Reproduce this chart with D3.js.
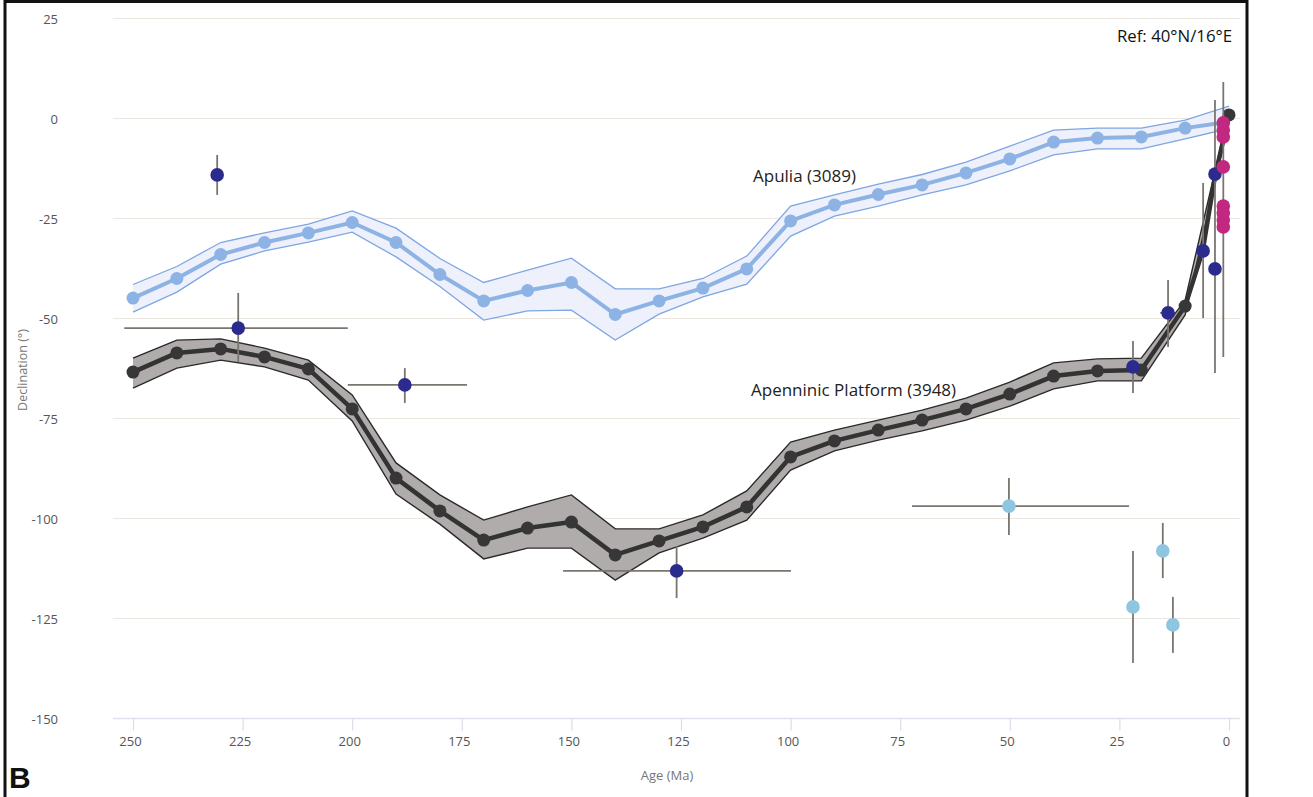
<!DOCTYPE html>
<html>
<head>
<meta charset="utf-8">
<script src="https://cdn.jsdelivr.net/npm/d3@7"></script>
<style>
  html, body { margin: 0; padding: 0; background: #fff; }
  svg { display: block; font-family: "Open Sans", "Lato", sans-serif; }
</style>
</head>
<body>
<svg id="chart" width="1313" height="797"></svg>
<script>
// ---------- DATA ----------
const ages = [250,240,230,220,210,200,190,180,170,160,150,140,130,120,110,100,90,80,70,60,50,40,30,20,10,0];

const apuliaDec = [-44.9,-40,-34,-31,-28.6,-26,-31,-39,-45.6,-43,-41,-49,-45.6,-42.4,-37.6,-25.6,-21.6,-19,-16.6,-13.6,-10.1,-5.9,-4.9,-4.6,-2.4,-0.8];
const apuliaUp  = [-41.5,-37,-31,-28.6,-26.4,-23.1,-27.4,-35,-41,-37.9,-34.9,-42.6,-42.6,-40,-34.4,-21.9,-19.1,-16.4,-14,-10.9,-6.9,-2.9,-2.4,-2.4,-0.4,3.1];
const apuliaLo  = [-48.4,-43.4,-36.4,-33.1,-30.9,-28.4,-34.6,-42,-50.4,-48.1,-47.9,-55.4,-48.9,-44.6,-41.4,-29.4,-24.4,-21.9,-19.1,-16.6,-13.1,-9.1,-7.6,-7.6,-5.1,-2.5];

const apenDec = [-63.4,-58.6,-57.6,-59.6,-62.6,-72.6,-89.9,-98.1,-105.4,-102.4,-100.9,-109.1,-105.6,-102.1,-97.1,-84.6,-80.6,-77.9,-75.4,-72.6,-68.9,-64.4,-63.1,-62.9,-46.9,0.9];
const apenUp  = [-59.9,-55.4,-55.1,-57.4,-60.4,-69.1,-86.1,-94.1,-100.4,-97.1,-94.1,-102.6,-102.6,-99.1,-93.1,-80.9,-77.9,-75.4,-72.9,-69.9,-65.9,-61.1,-60.1,-59.9,-45.4,2];
const apenLo  = [-67.4,-62.4,-60.4,-62.1,-65.4,-75.6,-93.9,-101.4,-110.1,-107.4,-107.4,-115.4,-108.6,-104.9,-100.4,-87.9,-83.1,-80.4,-78.1,-75.4,-71.9,-67.6,-65.6,-65.6,-49.1,-0.4];
// extra (unmarked) vertices of the Apenninic path between 10 and 0 Ma
const apenTailAge = [6, 3.2];
const apenTailDec = [-33.1, -14.5];

// Individual palaeomagnetic data (dark blue)
const dbAge    = [230.8, 226, 188, 126, 21.9, 13.9, 5.9, 3.2, 3.2];
const dbDec    = [-14.1, -52.4, -66.6, -113.1, -62.1, -48.6, -33.1, -13.9, -37.6];
const dbDecHi  = [-9.1, -43.6, -62.4, -106.9, -55.6, -40.4, -16.1, 4.6, null];
const dbDecLo  = [-19.1, -60.9, -71.1, -119.9, -68.6, -57.1, -49.9, -63.6, null];
const dbAgeOld = [null, 252, 201, 151.9, null, 15.7, null, null, null];
const dbAgeYng = [null, 201, 173.8, 99.9, null, 12.3, null, null, null];

// Magenta data
const mgAge   = [1.3, 1.3, 1.3, 1.3, 1.3, 1.3, 1.3, 1.3];
const mgDec   = [-1.1, -2.9, -4.6, -12.1, -21.9, -23.6, -25.4, -27.1];
const mgDecHi = [null, null, null, null, null, null, 9.1, null];
const mgDecLo = [null, null, null, null, null, null, -59.6, null];

// Light blue data
const lbAge    = [50.2, 21.9, 15.1, 12.8];
const lbDec    = [-96.9, -122.1, -108.1, -126.6];
const lbDecHi  = [-89.9, -108.1, -101.1, -119.6];
const lbDecLo  = [-104.1, -136.1, -114.9, -133.6];
const lbAgeOld = [72.3, null, null, null];
const lbAgeYng = [22.8, null, null, null];

const xTicks = [250,225,200,175,150,125,100,75,50,25,0];
const yTicks = [25,0,-25,-50,-75,-100,-125,-150];

// ---------- SCALES ----------
const svg = d3.select("#chart");
const x = d3.scaleLinear().domain([250, 0]).range([133, 1229]);
const y = d3.scaleLinear().domain([25, -150]).range([18.5, 718.5]);
const gridX0 = 113, gridX1 = 1240;

// frame
svg.append("path")
  .attr("d", "M5,797 L5,1.5 L1247,1.5 L1247,797")
  .attr("fill", "none").attr("stroke", "#111").attr("stroke-width", 3);

// gridlines
svg.append("g").selectAll("line").data(yTicks.filter(d => d !== -150)).join("line")
  .attr("x1", gridX0).attr("x2", gridX1)
  .attr("y1", d => y(d)).attr("y2", d => y(d))
  .attr("stroke", "#ece6e0").attr("stroke-width", 1.2);

// y tick labels
svg.append("g").selectAll("text").data(yTicks).join("text")
  .attr("x", 58).attr("y", d => y(d) + 5)
  .attr("text-anchor", "end")
  .attr("font-size", 13).attr("fill", "#555")
  .text(d => d);

// x axis
const xAxis = d3.axisBottom(x).tickValues(xTicks).tickSize(12).tickPadding(6).tickFormat(d3.format("d"));
const gx = svg.append("g").attr("transform", `translate(0,${y(-150)})`).call(xAxis);
gx.select(".domain").remove();
gx.selectAll(".tick line").attr("stroke", "#d9dde8").attr("stroke-width", 1.2);
gx.selectAll(".tick text").attr("font-size", 13).attr("fill", "#555")
  .attr("font-family", "'Open Sans', Lato, sans-serif").attr("dx", -3);
svg.append("line")
  .attr("x1", gridX0).attr("x2", gridX1)
  .attr("y1", y(-150)).attr("y2", y(-150))
  .attr("stroke", "#dde1ec").attr("stroke-width", 1.5);

// axis titles
svg.append("text").attr("x", 667).attr("y", 780).attr("text-anchor", "middle")
  .attr("font-size", 13).attr("fill", "#777").text("Age (Ma)");
svg.append("text").attr("transform", "translate(27,370) rotate(-90)").attr("text-anchor", "middle")
  .attr("font-size", 12.5).attr("fill", "#777").text("Declination (°)");
svg.append("text").attr("x", 9).attr("y", 788).attr("font-size", 30).attr("font-weight", "bold")
  .attr("fill", "#111").attr("font-family", "'Liberation Sans', Arial, sans-serif").text("B");
svg.append("text").attr("x", 1232).attr("y", 42).attr("text-anchor", "end")
  .attr("font-size", 16.8).attr("fill", "#111").text("Ref: 40°N/16°E");

// ---------- CURVES ----------
const apulia = ages.map((a, i) => ({age: a, dec: apuliaDec[i], up: apuliaUp[i], lo: apuliaLo[i]}));
const apen = ages.map((a, i) => ({age: a, dec: apenDec[i], up: apenUp[i], lo: apenLo[i]}));
const apenPath = apen.slice(0, 25).concat(apenTailAge.map((a, i) => ({age: a, dec: apenTailDec[i]}))).concat([apen[25]]);

const area = d3.area().x(d => x(d.age)).y0(d => y(d.lo)).y1(d => y(d.up));
const lineUp = d3.line().x(d => x(d.age)).y(d => y(d.up));
const lineLo = d3.line().x(d => x(d.age)).y(d => y(d.lo));
const line = d3.line().x(d => x(d.age)).y(d => y(d.dec));

// Apulia band
svg.append("path").datum(apulia).attr("d", area).attr("fill", "#eef0fb");
svg.append("path").datum(apulia).attr("d", lineUp).attr("fill", "none").attr("stroke", "#7ea6e2").attr("stroke-width", 1.3);
svg.append("path").datum(apulia).attr("d", lineLo).attr("fill", "none").attr("stroke", "#7ea6e2").attr("stroke-width", 1.3);
// Apennine band
svg.append("path").datum(apen).attr("d", area).attr("fill", "#b1acac");
svg.append("path").datum(apen).attr("d", lineUp).attr("fill", "none").attr("stroke", "#2a2a2a").attr("stroke-width", 1.4);
svg.append("path").datum(apen).attr("d", lineLo).attr("fill", "none").attr("stroke", "#2a2a2a").attr("stroke-width", 1.4);

// mean lines
svg.append("path").datum(apulia).attr("d", line).attr("fill", "none").attr("stroke", "#8cb3e4").attr("stroke-width", 4);
svg.append("path").datum(apenPath).attr("d", line).attr("fill", "none").attr("stroke", "#333").attr("stroke-width", 4.5).attr("stroke-linejoin", "round");

svg.append("g").selectAll("circle").data(apulia.filter(d => d.age > 0)).join("circle")
  .attr("cx", d => x(d.age)).attr("cy", d => y(d.dec)).attr("r", 6.5).attr("fill", "#8cb3e4");
svg.append("g").selectAll("circle").data(apen).join("circle")
  .attr("cx", d => x(d.age)).attr("cy", d => y(d.dec)).attr("r", 6.5).attr("fill", "#373737");

// series labels
svg.append("text").attr("x", 753).attr("y", 182).attr("font-size", 17).attr("fill", "#222").text("Apulia (3089)");
svg.append("text").attr("x", 751).attr("y", 396).attr("font-size", 17).attr("fill", "#222").text("Apenninic Platform (3948)");

// ---------- INDIVIDUAL DATA ----------
function drawSet(ageA, decA, hiA, loA, oldA, yngA, color) {
  const pts = ageA.map((a, i) => ({age: a, dec: decA[i], hi: hiA ? hiA[i] : null, lo: loA ? loA[i] : null,
    old: oldA ? oldA[i] : null, yng: yngA ? yngA[i] : null}));
  const g = svg.append("g");
  g.selectAll("line.v").data(pts.filter(p => p.hi !== null)).join("line").attr("class", "v")
    .attr("x1", d => x(d.age)).attr("x2", d => x(d.age))
    .attr("y1", d => y(d.hi)).attr("y2", d => y(d.lo))
    .attr("stroke", "#7b7570").attr("stroke-width", 1.8);
  g.selectAll("line.h").data(pts.filter(p => p.old !== null)).join("line").attr("class", "h")
    .attr("x1", d => x(d.old)).attr("x2", d => x(d.yng))
    .attr("y1", d => y(d.dec)).attr("y2", d => y(d.dec))
    .attr("stroke", "#7b7570").attr("stroke-width", 1.8);
  return {g, pts, color};
}
const sets = [
  drawSet(lbAge, lbDec, lbDecHi, lbDecLo, lbAgeOld, lbAgeYng, "#8ec5e0"),
  drawSet(dbAge, dbDec, dbDecHi, dbDecLo, dbAgeOld, dbAgeYng, "#2b2b8e"),
  drawSet(mgAge, mgDec, mgDecHi, mgDecLo, null, null, "#c2287f")
];
sets.forEach(s => {
  s.g.selectAll("circle").data(s.pts).join("circle")
    .attr("cx", d => x(d.age)).attr("cy", d => y(d.dec)).attr("r", 6.8).attr("fill", s.color);
});
</script>
</body>
</html>
